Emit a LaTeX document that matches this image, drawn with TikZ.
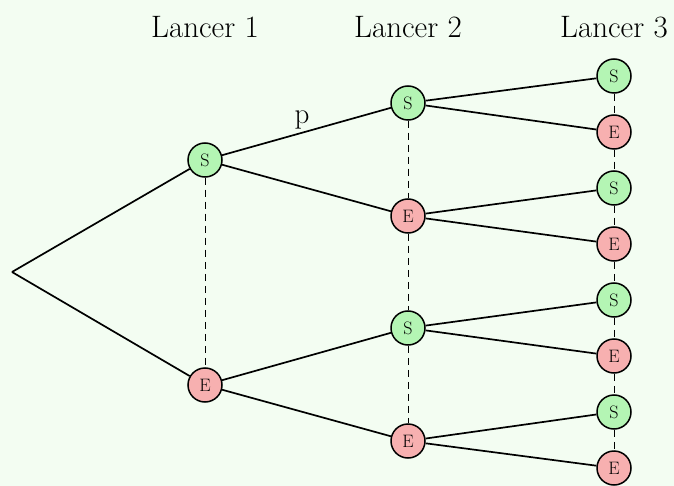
\documentclass[tikz,border=0pt]{standalone}
\usepackage{fontspec}
\begin{document}
\begin{tikzpicture}[x=1pt,y=-1pt,
  outcome/.style={circle,draw=black,line width=1.5pt,minimum size=34pt,inner sep=0pt,font=\fontsize{18}{18}\selectfont},
  succ/.style={outcome,fill=succfill},
  fail/.style={outcome,fill=failfill},
  branch/.style={line width=1.7pt},
  column/.style={line width=0.8pt,dash pattern=on 7pt off 5pt},
  header/.style={font=\fontsize{31}{31}\selectfont}]
\definecolor{bgcol}{RGB}{243,253,242}
\definecolor{succfill}{RGB}{180,245,180}
\definecolor{failfill}{RGB}{247,176,176}
\fill[bgcol] (0,0) rectangle (674,486);
\useasboundingbox (0,0) rectangle (674,486);

% column headers
\node[header] (h1) at (205,27) {Lancer 1};
\node[header] (h2) at (408,27) {Lancer 2};
\node[header] (h3) at (614,27) {Lancer 3};

% root
\coordinate (r) at (12,272);

% first throw
\node[succ] (a1) at (205,160) {S};
\node[fail] (a2) at (205,385) {E};

% second throw
\node[succ] (b1) at (408,103) {S};
\node[fail] (b2) at (408,216) {E};
\node[succ] (b3) at (408,328) {S};
\node[fail] (b4) at (408,441) {E};

% third throw
\node[succ] (c1) at (614,76) {S};
\node[fail] (c2) at (614,132) {E};
\node[succ] (c3) at (614,188) {S};
\node[fail] (c4) at (614,244) {E};
\node[succ] (c5) at (614,300) {S};
\node[fail] (c6) at (614,356) {E};
\node[succ] (c7) at (614,412) {S};
\node[fail] (c8) at (614,468) {E};

% dashed links within each column
\draw[column] (a1) -- (a2);
\draw[column] (b1) -- (b2);
\draw[column] (b2) -- (b3);
\draw[column] (b3) -- (b4);
\foreach \i/\j in {c1/c2,c2/c3,c3/c4,c4/c5,c5/c6,c6/c7,c7/c8}
  \draw[column] (\i) -- (\j);

% branches
\draw[branch] (r) -- (a1);
\draw[branch] (r) -- (a2);
\draw[branch] (a1) -- (b1);
\draw[branch] (a1) -- (b2);
\draw[branch] (a2) -- (b3);
\draw[branch] (a2) -- (b4);
\draw[branch] (b1) -- (c1);
\draw[branch] (b1) -- (c2);
\draw[branch] (b2) -- (c3);
\draw[branch] (b2) -- (c4);
\draw[branch] (b3) -- (c5);
\draw[branch] (b3) -- (c6);
\draw[branch] (b4) -- (c7);
\draw[branch] (b4) -- (c8);

% probability of the first branch
\node[anchor=base,inner sep=0pt,font=\fontsize{29}{29}\selectfont] (lp) at (302,123.5) {p};
\end{tikzpicture}
\end{document}
